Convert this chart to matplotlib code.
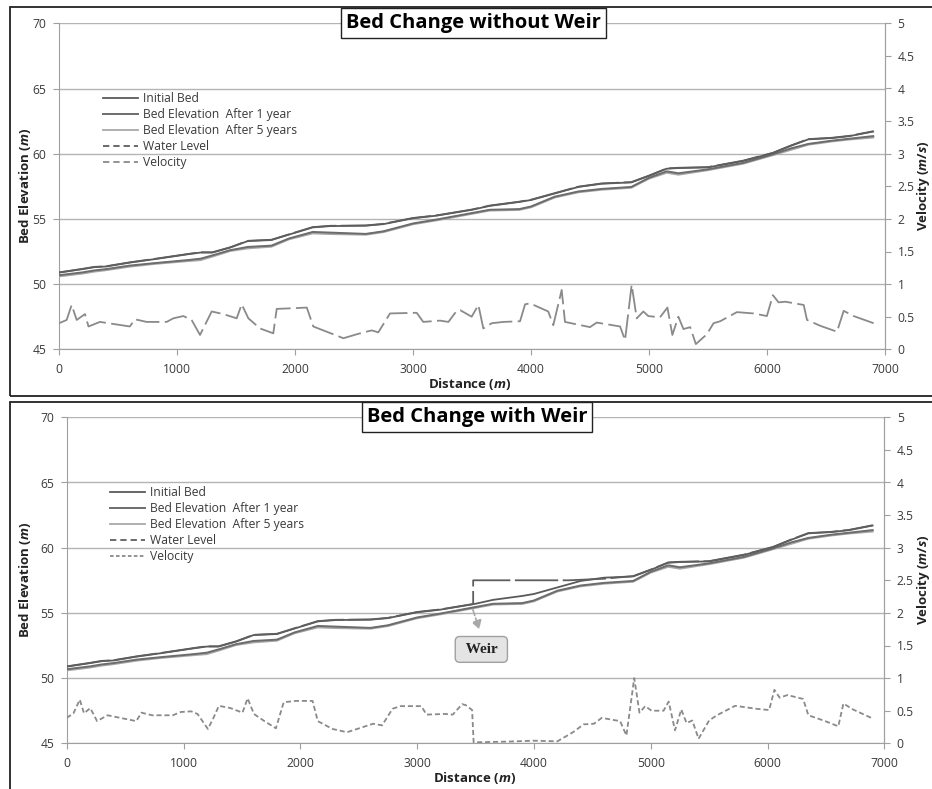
import matplotlib
matplotlib.use("Agg")
import matplotlib.pyplot as plt
from matplotlib.lines import Line2D
from matplotlib.patches import Rectangle
from matplotlib.ticker import FuncFormatter, MultipleLocator

plt.rcParams["font.family"] = ["Open Sans", "DejaVu Sans"]
plt.rcParams["mathtext.fontset"] = "custom"
plt.rcParams["mathtext.it"] = "Open Sans:italic:bold"
plt.rcParams["mathtext.rm"] = "Open Sans:bold"

# ------------------------------
# Bed profiles (m)
# ------------------------------
distancia = [0, 200, 300, 400, 600, 800, 1100, 1200, 1300, 1450, 1600, 1800, 1950,
             2150, 2300, 2600, 2750, 3000, 3200, 3500, 3650, 3900, 4000, 4200, 4400,
             4600, 4850, 5000, 5150, 5250, 5500, 5800, 6050, 6200, 6350, 6550, 6700, 6900]

leito_inicial = [50.88, 51.15, 51.3, 51.35, 51.65, 51.9, 52.3, 52.42, 52.42, 52.8, 53.3,
                 53.38, 53.8, 54.35, 54.45, 54.48, 54.6, 55.05, 55.25, 55.7, 56.0, 56.3,
                 56.45, 56.95, 57.45, 57.7, 57.8, 58.3, 58.85, 58.9, 58.95, 59.45, 60.05,
                 60.6, 61.1, 61.2, 61.35, 61.7]

leito_1ano = [50.68, 50.9, 51.05, 51.15, 51.42, 51.6, 51.85, 51.95, 52.2, 52.6, 52.85,
              52.95, 53.5, 54.0, 53.95, 53.85, 54.05, 54.65, 54.95, 55.45, 55.7, 55.75,
              55.95, 56.7, 57.1, 57.3, 57.45, 58.15, 58.65, 58.5, 58.8, 59.3, 59.95,
              60.4, 60.75, 61.0, 61.15, 61.35]

leito_5anos = [50.6, 50.82, 50.97, 51.08, 51.35, 51.55, 51.78, 51.85, 52.12, 52.55, 52.75,
               52.88, 53.45, 53.9, 53.85, 53.8, 54.0, 54.6, 54.9, 55.4, 55.65, 55.7,
               55.9, 56.65, 57.05, 57.25, 57.4, 58.1, 58.55, 58.4, 58.75, 59.25, 59.9,
               60.3, 60.7, 60.95, 61.1, 61.25]

# water level without weir (lies on the bed lines)
nivel_sem = [50.9, 51.17, 51.32, 51.37, 51.67, 51.92, 52.32, 52.44, 52.44, 52.82, 53.32,
             53.4, 53.82, 54.37, 54.47, 54.5, 54.62, 55.07, 55.27, 55.72, 56.02, 56.32,
             56.47, 56.97, 57.47, 57.72, 57.82, 58.32, 58.87, 58.92, 58.97, 59.47, 60.07,
             60.62, 61.12, 61.22, 61.37, 61.72]

# water level with weir
dist_nivel_com = [0, 200, 300, 400, 600, 800, 1100, 1200, 1300, 1450, 1600, 1800, 1950,
                  2150, 2300, 2600, 2750, 3000, 3200, 3480, 3480, 4300, 4600, 4850, 5000,
                  5150, 5250, 5500, 5800, 6050, 6200, 6350, 6550, 6700, 6900]
nivel_com = [50.9, 51.17, 51.32, 51.37, 51.67, 51.92, 52.32, 52.44, 52.44, 52.82, 53.32,
             53.4, 53.82, 54.37, 54.47, 54.5, 54.62, 55.07, 55.27, 55.68, 57.5, 57.5,
             57.62, 57.82, 58.32, 58.87, 58.92, 58.97, 59.47, 60.07, 60.62, 61.12, 61.22,
             61.37, 61.72]

# ------------------------------
# Velocity (m/s)
# ------------------------------
dist_vel_sem = [0, 65, 107, 150, 220, 250, 347, 600, 644, 743, 912, 969, 1054, 1124, 1195,
                1294, 1393, 1506, 1548, 1605, 1703, 1816, 1845, 1986, 2100, 2155, 2268,
                2410, 2551, 2650, 2706, 2805, 3031, 3087, 3229, 3300, 3370, 3400, 3497,
                3554, 3596, 3667, 3766, 3907, 3950, 3992, 4146, 4189, 4260, 4288, 4500,
                4557, 4755, 4797, 4853, 4896, 4952, 4994, 5093, 5156, 5198, 5249, 5292,
                5349, 5397, 5490, 5547, 5603, 5745, 5886, 5999, 6050, 6098, 6155, 6311,
                6339, 6452, 6593, 6650, 6734, 6904]
vel_sem = [0.40, 0.45, 0.68, 0.45, 0.54, 0.35, 0.42, 0.35, 0.46, 0.42, 0.42, 0.475, 0.51,
           0.45, 0.22, 0.58, 0.54, 0.475, 0.69, 0.475, 0.32, 0.245, 0.62, 0.63, 0.64,
           0.35, 0.27, 0.17, 0.245, 0.29, 0.26, 0.55, 0.56, 0.42, 0.44, 0.42, 0.59, 0.60,
           0.50, 0.68, 0.32, 0.40, 0.42, 0.43, 0.69, 0.705, 0.58, 0.37, 0.91, 0.42, 0.34,
           0.41, 0.35, 0.14, 0.99, 0.475, 0.58, 0.51, 0.49, 0.64, 0.22, 0.50, 0.31, 0.34,
           0.08, 0.23, 0.40, 0.43, 0.57, 0.55, 0.51, 0.83, 0.72, 0.73, 0.68, 0.45, 0.36,
           0.27, 0.59, 0.51, 0.40]

dist_vel_com = [0, 58, 112, 148, 202, 260, 349, 596, 640, 730, 909, 976, 1066, 1120, 1209,
                1254, 1303, 1402, 1505, 1549, 1603, 1693, 1791, 1858, 1961, 2105, 2150,
                2275, 2400, 2521, 2624, 2700, 2790, 2857, 3036, 3081, 3238, 3305, 3386,
                3417, 3471, 3484, 3775, 4000, 4201, 4335, 4425, 4514, 4581, 4738, 4792,
                4859, 4904, 4953, 5007, 5110, 5154, 5208, 5262, 5307, 5356, 5410, 5500,
                5567, 5723, 5902, 6014, 6059, 6104, 6171, 6305, 6350, 6494, 6606, 6650,
                6731, 6888]
vel_com = [0.39, 0.46, 0.67, 0.46, 0.54, 0.34, 0.43, 0.34, 0.47, 0.43, 0.43, 0.48, 0.49,
           0.45, 0.22, 0.38, 0.575, 0.54, 0.47, 0.69, 0.45, 0.34, 0.23, 0.63, 0.65, 0.65,
           0.34, 0.22, 0.17, 0.24, 0.30, 0.275, 0.53, 0.57, 0.57, 0.44, 0.45, 0.44, 0.60,
           0.585, 0.51, 0.015, 0.026, 0.04, 0.03, 0.17, 0.29, 0.30, 0.39, 0.34, 0.12,
           1.0, 0.47, 0.57, 0.50, 0.50, 0.64, 0.20, 0.52, 0.31, 0.35, 0.07, 0.35, 0.43,
           0.575, 0.53, 0.51, 0.82, 0.70, 0.74, 0.68, 0.43, 0.34, 0.26, 0.61, 0.52, 0.39]

# weir position and label
pos_vertedouro = 3470
cota_vertedouro = 55.45
pos_rotulo = (3550, 52.2)

# ------------------------------
# Colours
# ------------------------------
cor_inicial = "#5a5a5a"
cor_1ano = "#6c6c6c"
cor_5anos = "#a8a8a8"
cor_nivel = "#5e5e5e"
cor_vel = "#8a8a8a"
cor_grade = "#b4b4b4"
cor_texto = "#3a3a3a"

W, H = 932, 789
fig = plt.figure(figsize=(W / 100, H / 100), dpi=100)


def caixa(l, t, r, b):
    return [l / W, 1 - b / H, (r - l) / W, (b - t) / H]


def painel(ax, titulo, dist_nivel, nivel, dist_vel, vel, tracos_vel, tracos_vel_leg):
    ax.plot(distancia, leito_5anos, color=cor_5anos, lw=1.6, zorder=3)
    ax.plot(distancia, leito_1ano, color=cor_1ano, lw=1.4, zorder=4)
    ax.plot(distancia, leito_inicial, color=cor_inicial, lw=1.3, zorder=5)
    ax.plot(dist_nivel, nivel, color=cor_nivel, lw=1.3, dashes=(24, 2.5), zorder=5)

    ax.set_xlim(0, 7000)
    ax.set_ylim(45, 70)
    ax.xaxis.set_major_locator(MultipleLocator(1000))
    ax.yaxis.set_major_locator(MultipleLocator(5))
    ax.grid(axis="y", color=cor_grade, lw=1)
    ax.set_axisbelow(True)
    for lado in ["left", "bottom", "right"]:
        ax.spines[lado].set_color("#a0a0a0")
    ax.spines["top"].set_visible(False)
    ax.tick_params(direction="out", length=4, color="#a0a0a0", labelsize=8.75,
                   labelcolor=cor_texto, pad=5)
    ax.tick_params(axis="x", pad=6)

    ax2 = ax.twinx()
    ax2.plot(dist_vel, vel, color=cor_vel, lw=1.3, dashes=tracos_vel, zorder=3)
    ax2.set_ylim(0, 5)
    ax2.yaxis.set_major_locator(MultipleLocator(0.5))
    ax2.yaxis.set_major_formatter(FuncFormatter(lambda v, _: f"{v:g}"))
    for lado in ["left", "bottom", "top"]:
        ax2.spines[lado].set_visible(False)
    ax2.spines["right"].set_color("#a0a0a0")
    ax2.tick_params(direction="out", length=4, color="#a0a0a0", labelsize=8.75,
                    labelcolor=cor_texto, pad=5)

    alcas = [
        Line2D([], [], color=cor_inicial, lw=1.3),
        Line2D([], [], color=cor_1ano, lw=1.4),
        Line2D([], [], color=cor_5anos, lw=1.3),
        Line2D([], [], color=cor_nivel, lw=1.3, dashes=(3.5, 2.2)),
        Line2D([], [], color=cor_vel, lw=1.3, dashes=tracos_vel_leg),
    ]
    nomes = ["Initial Bed", "Bed Elevation  After 1 year", "Bed Elevation  After 5 years",
             "Water Level", "Velocity"]
    leg = ax2.legend(alcas, nomes, loc="upper left", bbox_to_anchor=(0.053, 0.789),
                     frameon=False, fontsize=8.75, handlelength=2.9, handletextpad=0.4,
                     labelspacing=0.25, borderpad=0, borderaxespad=0)
    for t in leg.get_texts():
        t.set_color(cor_texto)

    ax2.text(0.502, 1.0, titulo, transform=ax.transAxes, ha="center", va="center",
             fontsize=14.5, fontweight="bold", zorder=10,
             bbox=dict(boxstyle="square,pad=0.25", fc="white", ec="#222222", lw=1))
    return ax2


# ------------------------------
# Top panel: without weir
# ------------------------------
ax_sup = fig.add_axes(caixa(59, 23.3, 885, 349.3))
painel(ax_sup, "Bed Change without Weir", distancia, nivel_sem,
       dist_vel_sem, vel_sem, (13, 3), (3.5, 2.2))

# ------------------------------
# Bottom panel: with weir
# ------------------------------
ax_inf = fig.add_axes(caixa(66.7, 417.3, 884.3, 743.3))
ax_inf2 = painel(ax_inf, "Bed Change with Weir", dist_nivel_com, nivel_com,
                 dist_vel_com, vel_com, (2.8, 1.6), (2.0, 1.3))

ax_inf.annotate("", xy=(pos_rotulo[0] - 10, 53.55), xytext=(pos_vertedouro, cota_vertedouro),
                arrowprops=dict(arrowstyle="-|>,head_width=0.3,head_length=0.5",
                                color="#a8a8a8", lw=1.2, ls="--"), zorder=6)
ax_inf.text(pos_rotulo[0], pos_rotulo[1], " Weir ", ha="center", va="center",
            family="Liberation Serif", fontweight="bold", fontsize=11, color="#222222",
            zorder=7,
            bbox=dict(boxstyle="round,pad=0.42,rounding_size=0.3", fc="#e4e4e4",
                      ec="#a0a0a0", lw=1))

# ------------------------------
# Axis titles
# ------------------------------
rot_y = "Bed Elevation ($m$)"
rot_v = "Velocity ($m/s$)"
rot_x = "Distance ($m$)"
for centro_y in [186, 580]:
    fig.text(25 / W, 1 - centro_y / H, rot_y, rotation=90, ha="center", va="center",
             fontsize=9.5, fontweight="bold", color="#222222")
    fig.text(924 / W, 1 - centro_y / H, rot_v, rotation=90, ha="center", va="center",
             fontsize=9.5, fontweight="bold", color="#222222")
fig.text(470 / W, 1 - 384 / H, rot_x, ha="center", va="center",
         fontsize=9.5, fontweight="bold", color="#222222")
fig.text(475 / W, 1 - 778 / H, rot_x, ha="center", va="center",
         fontsize=9.5, fontweight="bold", color="#222222")

# ------------------------------
# Panel frames
# ------------------------------
fig.add_artist(Rectangle((10 / W, 1 - 396 / H), (W - 4) / W, (396 - 7) / H,
                         transform=fig.transFigure, fill=False, ec="#222222", lw=1.3))
fig.add_artist(Rectangle((10 / W, -10 / H), (W - 4) / W, (H + 10 - 401.7) / H,
                         transform=fig.transFigure, fill=False, ec="#222222", lw=1.3))

fig.savefig("out.png", dpi=100)
